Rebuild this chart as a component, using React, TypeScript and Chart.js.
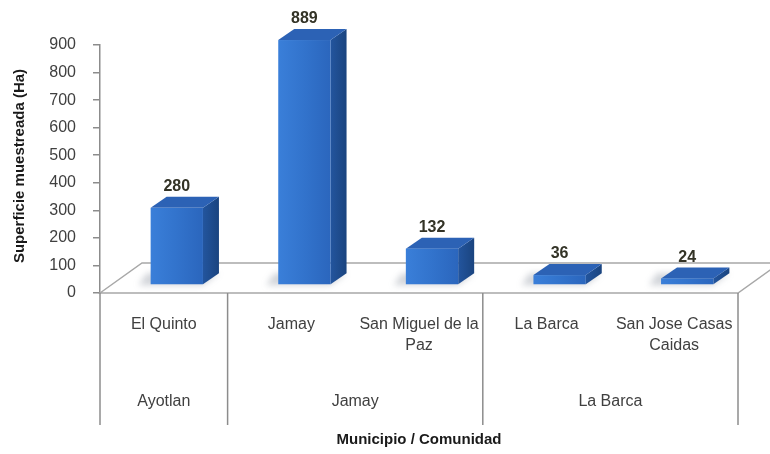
import React, { useEffect, useRef } from "react";
import { Chart, registerables } from "chart.js";
Chart.register(...registerables);

// ---- data ----
const categories = ["El Quinto", "Jamay", "San Miguel de la Paz", "La Barca", "San Jose Casas Caidas"];
const categoryLines = [["El Quinto"], ["Jamay"], ["San Miguel de la", "Paz"], ["La Barca"], ["San Jose Casas", "Caidas"]];
const groups = ["Ayotlan", "Jamay", "La Barca"];
const groupStart = [0, 1, 3];
const groupSize = [1, 2, 2];
const values = [280, 889, 132, 36, 24];
const yMin = 0;
const yMax = 900;
const yStep = 100;
const yTitle = "Superficie muestreada (Ha)";
const xTitle = "Municipio / Comunidad";

const FONT = '"Liberation Sans", Arial, Helvetica, sans-serif';
// 3D look
const FLOOR_DX = 42;
const FLOOR_DY = 30;
const SX = 13; // bar front face shift
const SY = -8;
const DX = 16; // bar depth
const DY = -11;

const bar3d = {
  id: "bar3d",
  beforeDatasetsDraw(chart: any) {
    const { ctx, chartArea } = chart;
    const { left, right, bottom } = chartArea;
    ctx.save();
    ctx.beginPath();
    ctx.moveTo(left, bottom);
    ctx.lineTo(left + FLOOR_DX, bottom - FLOOR_DY);
    ctx.lineTo(right + FLOOR_DX, bottom - FLOOR_DY);
    ctx.lineTo(right, bottom);
    ctx.closePath();
    ctx.fillStyle = "#ffffff";
    ctx.fill();
    ctx.strokeStyle = "#a8a8a8";
    ctx.lineWidth = 1.5;
    ctx.stroke();
    ctx.restore();
  },
  afterDatasetsDraw(chart: any) {
    const { ctx } = chart;
    const meta = chart.getDatasetMeta(0);
    meta.data.forEach((el: any, i: number) => {
      const { x, y, base, width } = el.getProps(["x", "y", "base", "width"], true);
      const x0 = x - width / 2 + SX;
      const x1 = x0 + width;
      const yt = y + SY;
      const yb = base + SY;
      ctx.save();
      // shadow on floor
      ctx.filter = "blur(3px)";
      ctx.fillStyle = "rgba(90,100,120,0.28)";
      ctx.beginPath();
      ctx.moveTo(x0 - 12, yb + 1);
      ctx.lineTo(x1, yb + 1);
      ctx.lineTo(x1 + DX, yb + DY);
      ctx.lineTo(x0 - 4, yb + DY);
      ctx.closePath();
      ctx.fill();
      ctx.filter = "none";
      // side face
      const sg = ctx.createLinearGradient(x1, 0, x1 + DX, 0);
      sg.addColorStop(0, "#23559e");
      sg.addColorStop(1, "#1a447f");
      ctx.fillStyle = sg;
      ctx.beginPath();
      ctx.moveTo(x1, yt);
      ctx.lineTo(x1 + DX, yt + DY);
      ctx.lineTo(x1 + DX, yb + DY);
      ctx.lineTo(x1, yb);
      ctx.closePath();
      ctx.fill();
      // top face
      ctx.fillStyle = "#2c62b5";
      ctx.beginPath();
      ctx.moveTo(x0, yt);
      ctx.lineTo(x0 + DX, yt + DY);
      ctx.lineTo(x1 + DX, yt + DY);
      ctx.lineTo(x1, yt);
      ctx.closePath();
      ctx.fill();
      // front face
      const fg = ctx.createLinearGradient(x0, 0, x1, 0);
      fg.addColorStop(0, "#3a7fd9");
      fg.addColorStop(0.5, "#3273cc");
      fg.addColorStop(1, "#2b66bd");
      ctx.fillStyle = fg;
      ctx.fillRect(x0, yt, x1 - x0, yb - yt);
      // value label
      ctx.fillStyle = "#333326";
      ctx.font = `bold 16px ${FONT}`;
      ctx.textAlign = "center";
      ctx.textBaseline = "middle";
      ctx.fillText(String(values[i]), (x0 + x1) / 2, yt + DY - 10);
      ctx.restore();
    });
  },
  afterDraw(chart: any) {
    const { ctx, chartArea } = chart;
    const xs = chart.scales.x;
    const { left, right, bottom, top } = chartArea;
    const catW = (right - left) / categories.length;
    ctx.save();
    // group boundary lines
    ctx.strokeStyle = "#8c8c8c";
    ctx.lineWidth = 1.5;
    const bounds: number[] = [left];
    groupStart.forEach((s, g) => {
      const last = s + groupSize[g] - 1;
      bounds.push(xs.getPixelForValue(last) + catW / 2);
    });
    bounds.forEach((bx) => {
      ctx.beginPath();
      ctx.moveTo(bx, bottom);
      ctx.lineTo(bx, bottom + 132);
      ctx.stroke();
    });
    // category labels
    ctx.fillStyle = "#404040";
    ctx.font = `16px ${FONT}`;
    ctx.textAlign = "center";
    ctx.textBaseline = "middle";
    categoryLines.forEach((lines, i) => {
      const cx = xs.getPixelForValue(i);
      lines.forEach((t, k) => ctx.fillText(t, cx, bottom + 32 + k * 21));
    });
    // group labels
    groups.forEach((g, gi) => {
      const a = xs.getPixelForValue(groupStart[gi]);
      const b = xs.getPixelForValue(groupStart[gi] + groupSize[gi] - 1);
      ctx.fillText(g, (a + b) / 2, bottom + 109);
    });
    // axis titles
    ctx.fillStyle = "#1a1a1a";
    ctx.font = `bold 15px ${FONT}`;
    ctx.fillText(xTitle, (left + right) / 2, bottom + 147);
    ctx.translate(20, (top + bottom) / 2 - 3);
    ctx.rotate(-Math.PI / 2);
    ctx.fillText(yTitle, 0, 0);
    ctx.restore();
  },
};

export default function App() {
  const ref = useRef<HTMLCanvasElement>(null);
  useEffect(() => {
    document.body.style.margin = "0";
    const canvas = ref.current!;
    const chart = new Chart(canvas, {
      type: "bar",
      data: {
        labels: categories,
        datasets: [
          {
            data: values,
            backgroundColor: "rgba(0,0,0,0)",
            borderWidth: 0,
            categoryPercentage: 1,
            barPercentage: 0.41,
          },
        ],
      },
      options: {
        responsive: false,
        maintainAspectRatio: false,
        animation: false,
        devicePixelRatio: 1,
        layout: { padding: { left: 0, right: 32, top: 45, bottom: 161 } },
        plugins: { legend: { display: false }, tooltip: { enabled: false } },
        scales: {
          x: { display: false },
          y: {
            min: yMin,
            max: yMax,
            ticks: {
              stepSize: yStep,
              color: "#404040",
              font: { size: 16, family: FONT },
              padding: 17,
            },
            grid: { drawOnChartArea: false, drawTicks: true, tickLength: 7, color: "#8c8c8c", lineWidth: 1.5 },
            border: { display: true, color: "#8c8c8c", width: 1.5 },
            afterFit: (s: any) => {
              s.width = 100;
            },
          },
        },
      },
      plugins: [bar3d],
    });
    return () => chart.destroy();
  }, []);
  return (
    <div style={{ width: 770, height: 454, position: "relative", background: "#fff" }}>
      <canvas ref={ref} width={770} height={454} />
    </div>
  );
}
